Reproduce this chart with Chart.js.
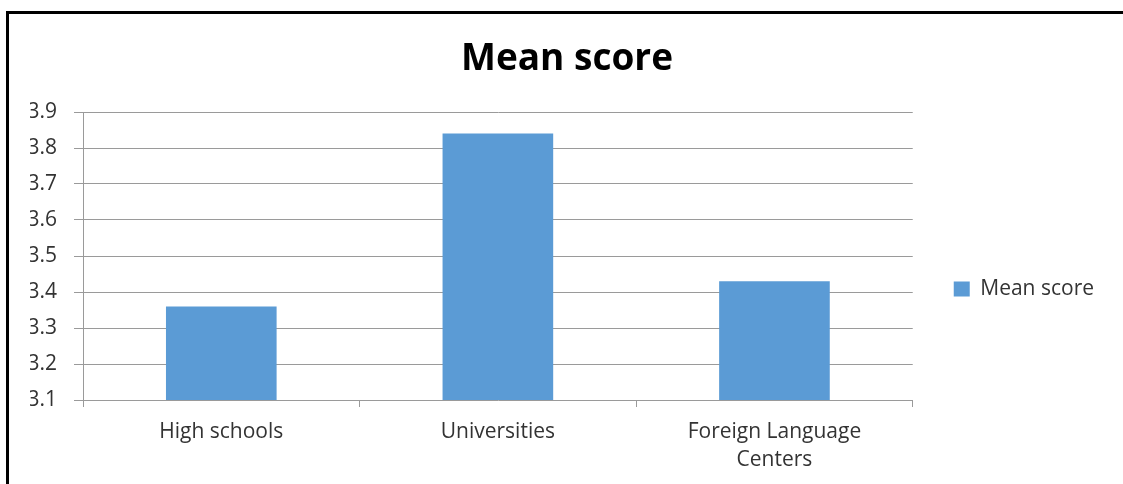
<!DOCTYPE html>
<html>
<head>
<meta charset="utf-8">
<script src="https://cdn.jsdelivr.net/npm/chart.js@4.4.1/dist/chart.umd.min.js"></script>
<style>
  html, body { margin: 0; padding: 0; background: #fff; }
  body { width: 1123px; height: 484px; overflow: hidden; position: relative; }
  /* frame: thick black line at left and top only */
  #frame { position: absolute; left: 6px; top: 11px; right: 0; bottom: 0;
           border-left: 3px solid #000; border-top: 3px solid #000; }
  #wrap { position: absolute; left: 10px; top: 14px; width: 1094px; height: 470px; }
</style>
</head>
<body>
<div id="frame"></div>
<div id="wrap"><canvas id="chart"></canvas></div>
<script>
// data
var categories = ['High schools', 'Universities', ['Foreign Language', 'Centers']];
var meanScores = [3.36, 3.84, 3.43];
var seriesName = 'Mean score';
var yMin = 3.1, yMax = 3.9, yStep = 0.1;

var gridColor = '#9a9a9a';
var textColor = '#333333';
var fontFamily = "'Open Sans', 'Noto Sans', sans-serif";

var ctx = document.getElementById('chart').getContext('2d');

new Chart(ctx, {
  type: 'bar',
  data: {
    labels: categories,
    datasets: [{
      label: seriesName,
      data: meanScores,
      backgroundColor: '#5B9BD5',
      borderWidth: 0,
      barPercentage: 0.4,
      categoryPercentage: 1.0
    }]
  },
  options: {
    responsive: true,
    maintainAspectRatio: false,
    animation: false,
    layout: { padding: { left: 20, right: 0, top: 0, bottom: 0 } },
    plugins: {
      title: {
        display: true,
        text: 'Mean score',
        color: '#000',
        font: { family: fontFamily, size: 37, weight: 'bold', lineHeight: 1.2 },
        padding: { top: 23, bottom: 30.6 }
      },
      legend: {
        display: true,
        position: 'right',
        // empty legend title only pushes the entry down to the middle of the plot
        title: { display: true, text: ' ', font: { size: 12, lineHeight: 1.2 }, padding: { top: 0, bottom: 65.6 } },
        labels: {
          color: textColor,
          font: { family: fontFamily, size: 21 },
          boxWidth: 16,
          boxHeight: 15,
          padding: 41
        }
      },
      tooltip: { enabled: false }
    },
    scales: {
      x: {
        grid: { display: true, drawOnChartArea: false, drawTicks: true, tickLength: 7, color: gridColor, offset: true },
        border: { display: false },
        ticks: {
          color: textColor,
          padding: 11,
          maxRotation: 0,
          autoSkip: false,
          font: { family: fontFamily, size: 21, lineHeight: 1.33 }
        },
        afterFit: function(scale) { scale.height = 84; }
      },
      y: {
        min: yMin,
        max: yMax,
        grid: { color: gridColor, tickLength: 9 },
        border: { display: true, color: gridColor },
        ticks: {
          stepSize: yStep,
          color: textColor,
          padding: 17,
          font: { family: fontFamily, size: 21 },
          callback: function(v) { return Number(v).toFixed(1); }
        },
        afterFit: function(scale) { scale.width = 53; }
      }
    }
  }
});
</script>
</body>
</html>
